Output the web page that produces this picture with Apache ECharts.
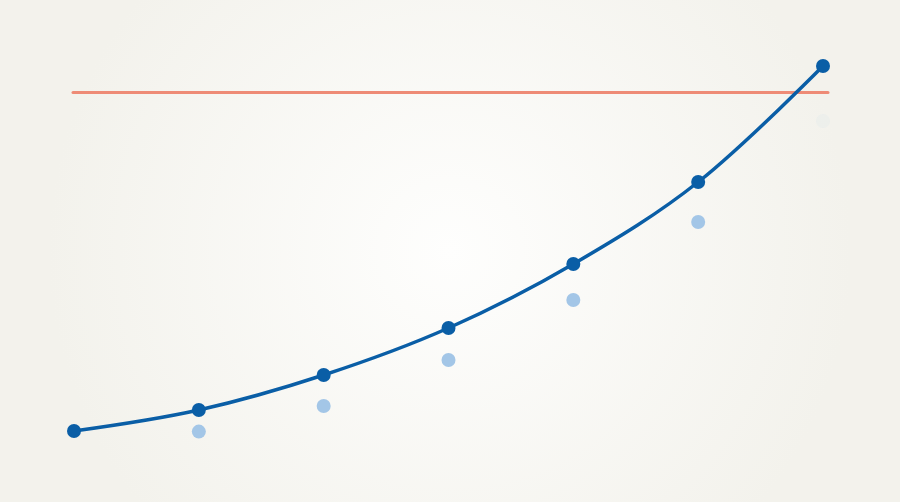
<!DOCTYPE html>
<html>
<head>
<meta charset="utf-8">
<script src="https://cdn.jsdelivr.net/npm/echarts@6/dist/echarts.min.js"></script>
<style>
  html, body { margin: 0; padding: 0; }
  #chart-main { width: 900px; height: 502px; }
</style>
</head>
<body>
<div id="chart-main"></div>
<script>
// Data
const steps = [0, 1, 2, 3, 4, 5, 6];
const mainValues = [4.75, 10, 18.75, 30.5, 46.5, 67, 96];
const lightSteps = [1, 2, 3, 4, 5, 6];
const lightValues = [4.6, 11, 22.5, 37.5, 57, 82.25];
const threshold = 89.5;

const colors = {
    main: '#0a5ea6',
    light: '#a3c6e7',
    threshold: '#ee8b76'
};

const chart = echarts.init(document.getElementById('chart-main'));

const lightData = lightSteps.map((s, i) => {
    const item = { value: [s, lightValues[i]] };
    // last dot is barely visible in the reference
    if (i === lightSteps.length - 1) item.itemStyle = { opacity: 0.08 };
    return item;
});

const option = {
    backgroundColor: new echarts.graphic.RadialGradient(0.5, 0.5, 0.8, [
        { offset: 0, color: '#fefefd' },
        { offset: 1, color: '#f3f2ec' }
    ]),
    animation: false,
    grid: { left: 73, right: 72, top: 50, bottom: 52 },
    xAxis: {
        type: 'value',
        min: -0.008,
        max: 6.04,
        show: false
    },
    yAxis: {
        type: 'value',
        min: 0,
        max: 100,
        show: false
    },
    series: [
        {
            type: 'scatter',
            data: lightData,
            symbolSize: 14,
            itemStyle: { color: colors.light, opacity: 1 },
            z: 1
        },
        {
            type: 'line',
            data: steps.map((s, i) => [s, mainValues[i]]),
            smooth: 0.35,
            symbol: 'circle',
            symbolSize: 14,
            lineStyle: { width: 3.5, color: colors.main },
            itemStyle: { color: colors.main },
            z: 3,
            markLine: {
                silent: true,
                symbol: 'none',
                label: { show: false },
                lineStyle: { color: colors.threshold, width: 3, type: 'solid', cap: 'round' },
                data: [{ yAxis: threshold }],
                z: 2
            }
        }
    ]
};

chart.setOption(option);
</script>
</body>
</html>
